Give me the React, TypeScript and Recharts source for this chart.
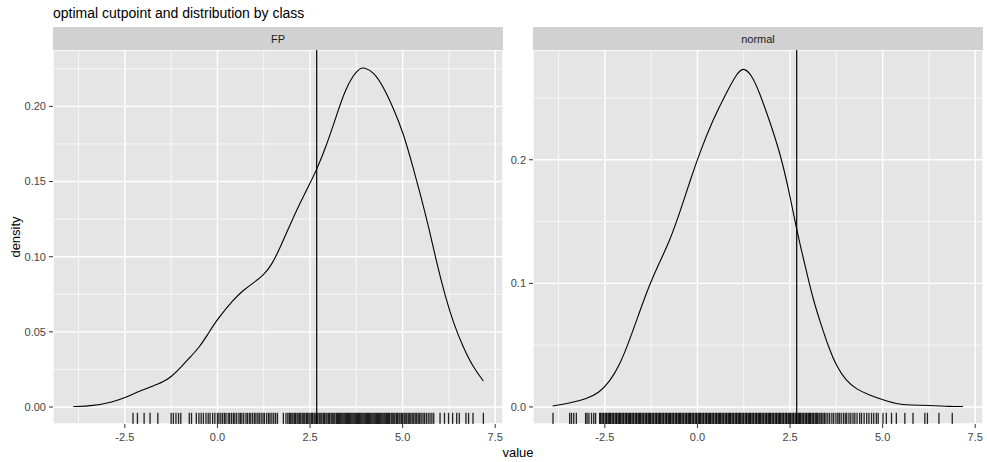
import React from "react";
import { ComposedChart, Line, Scatter, XAxis, YAxis, CartesianGrid, ReferenceLine } from "recharts";

// ---- data ----
const TITLE = "optimal cutpoint and distribution by class";
const PANELS = ["FP", "normal"];
const CUTPOINT = 2.68;

const xTicks = [-2.5, 0, 2.5, 5, 7.5];
const xMinor = [-3.75, -1.25, 1.25, 3.75, 6.25];
const fpYTicks = [0, 0.05, 0.1, 0.15, 0.2];
const fpYMinor = [0.025, 0.075, 0.125, 0.175, 0.225];
const normalYTicks = [0, 0.1, 0.2];
const normalYMinor = [0.05, 0.15, 0.25];

const fpX = [-3.89, -3.37, -2.82, -2.49, -2.1, -1.74, -1.47, -1.24, -1.02, -0.75, -0.48, -0.25, -0.02, 0.43, 0.7, 0.97, 1.24, 1.47, 1.69, 1.96, 2.23, 2.5, 2.68, 2.95, 3.22, 3.45, 3.67, 3.85, 3.96, 4.21, 4.48, 4.75, 5.02, 5.25, 5.47, 5.7, 5.92, 6.15, 6.37, 6.64, 6.91, 7.18];
const fpDensity = [0.0003, 0.0007, 0.0033, 0.0062, 0.0106, 0.014, 0.0166, 0.0202, 0.0255, 0.0328, 0.04, 0.0488, 0.0578, 0.0715, 0.0777, 0.0826, 0.0874, 0.0948, 0.1058, 0.1213, 0.1357, 0.149, 0.1578, 0.1744, 0.1944, 0.211, 0.2209, 0.2254, 0.226, 0.2231, 0.2131, 0.1988, 0.1822, 0.1623, 0.1424, 0.1202, 0.0959, 0.0737, 0.056, 0.0394, 0.0262, 0.0173];

const normalX = [-3.91, -3.46, -3.01, -2.65, -2.38, -2.11, -1.84, -1.57, -1.3, -1.03, -0.76, -0.48, -0.21, 0.06, 0.42, 0.78, 1.05, 1.23, 1.46, 1.68, 1.95, 2.22, 2.45, 2.67, 2.9, 3.12, 3.35, 3.53, 3.75, 4.02, 4.29, 4.65, 5.01, 5.37, 5.73, 6.27, 6.81, 7.17];
const normalDensity = [0.0008, 0.003, 0.0062, 0.0116, 0.0202, 0.0331, 0.0534, 0.0763, 0.0985, 0.1167, 0.1335, 0.157, 0.182, 0.2056, 0.2326, 0.2542, 0.269, 0.2752, 0.269, 0.2542, 0.2312, 0.2065, 0.178, 0.1445, 0.115, 0.0871, 0.0655, 0.0493, 0.0331, 0.021, 0.0143, 0.0095, 0.0057, 0.0024, 0.0014, 0.0014, 0.0003, 0.0003];

const fpRug = [
  -2.28, -2.16, -1.98, -1.82, -1.61, -1.25, -1.19, -1.12, -1.05, -0.99, -0.76, -0.7, -0.57, -0.5, -0.44, -0.38, -0.31, -0.25, -0.2, -0.13, -0.07, 0.0,
  0.04, 0.09, 0.14, 0.19, 0.23, 0.29, 0.33, 0.38, 0.43, 0.47, 0.52, 0.58, 0.62, 0.66, 0.71, 0.77, 0.81, 0.86, 0.9, 0.95, 1.0, 1.04, 1.09, 1.13, 1.18, 1.23, 1.27, 1.33, 1.38, 1.42, 1.47, 1.52, 1.57,
  1.62, 1.78, 1.85,
  1.9, 1.94, 1.97, 2.01, 2.04, 2.08, 2.11, 2.15, 2.18, 2.22, 2.25, 2.29, 2.33, 2.36, 2.4, 2.43, 2.47, 2.5, 2.54, 2.57, 2.61, 2.64, 2.68, 2.71, 2.75, 2.79, 2.82, 2.86, 2.89, 2.93, 2.96, 3.0, 3.03, 3.07, 3.1, 3.14, 3.17, 3.21, 3.24, 3.27, 3.3, 3.33, 3.36, 3.39, 3.42, 3.45, 3.48, 3.51, 3.54, 3.57, 3.6, 3.63, 3.66, 3.69, 3.72, 3.75, 3.78, 3.81, 3.84, 3.87, 3.9, 3.93, 3.96, 3.99, 4.02, 4.05, 4.08, 4.11, 4.14, 4.17, 4.2, 4.23, 4.26, 4.29, 4.32, 4.35, 4.38, 4.41, 4.44, 4.47, 4.5, 4.53, 4.56, 4.59, 4.62, 4.65, 4.69, 4.72, 4.76, 4.79, 4.83, 4.86, 4.9, 4.93, 4.97, 5.0, 5.04, 5.07, 5.11, 5.15, 5.18, 5.22, 5.26, 5.3, 5.34, 5.38, 5.42, 5.46, 5.5, 5.55, 5.59, 5.64, 5.69, 5.74, 5.79, 5.84,
  6.01, 6.13, 6.24, 6.35, 6.46, 6.53, 6.71, 6.78, 6.9, 7.18,
];

const normalRug = [
  -3.9, -3.45, -3.4, -3.34, -3.27, -3.02, -2.98, -2.93, -2.86, -2.8, -2.75,
  -2.64, -2.62, -2.58, -2.55, -2.53, -2.49, -2.46, -2.44, -2.4, -2.37, -2.35, -2.31, -2.28, -2.26, -2.22, -2.19, -2.17, -2.13, -2.1, -2.08, -2.04, -2.01, -1.99, -1.95, -1.92, -1.9, -1.86, -1.83, -1.81, -1.77, -1.74, -1.72, -1.68, -1.65, -1.63, -1.59, -1.56, -1.54, -1.5, -1.47, -1.45, -1.41, -1.38, -1.36, -1.32, -1.29, -1.27, -1.23, -1.2, -1.18, -1.14, -1.11, -1.09, -1.05, -1.02, -1.0, -0.96, -0.93, -0.91, -0.87, -0.84, -0.82, -0.78, -0.75, -0.73, -0.69, -0.66, -0.64, -0.6, -0.57, -0.55, -0.51, -0.48, -0.46, -0.42, -0.39, -0.37, -0.33, -0.3, -0.28, -0.24, -0.21, -0.19, -0.15, -0.12, -0.1, -0.06, -0.03, -0.01,
  0.03, 0.06, 0.08, 0.12, 0.15, 0.17, 0.21, 0.24, 0.26, 0.3, 0.33, 0.35, 0.39, 0.42, 0.44, 0.48, 0.51, 0.53, 0.57, 0.6, 0.62, 0.66, 0.69, 0.71, 0.75, 0.78, 0.8, 0.84, 0.87, 0.89, 0.93, 0.96, 0.98, 1.02, 1.05, 1.07, 1.11, 1.14, 1.16, 1.2, 1.23, 1.25, 1.29, 1.32, 1.34, 1.38, 1.41, 1.43, 1.47, 1.5, 1.52, 1.56, 1.59, 1.61, 1.65, 1.68, 1.7, 1.74, 1.77, 1.79, 1.83, 1.86, 1.88, 1.92, 1.95, 1.97, 2.01, 2.04, 2.06, 2.1, 2.13, 2.15, 2.19, 2.22, 2.24, 2.28, 2.31, 2.33, 2.37, 2.4, 2.42, 2.46, 2.49, 2.51, 2.55, 2.58, 2.6, 2.64, 2.67, 2.69, 2.73, 2.76, 2.78, 2.82, 2.85, 2.87, 2.91, 2.94, 2.96, 3.0, 3.03, 3.05, 3.09, 3.12, 3.14, 3.18, 3.21, 3.24, 3.28, 3.31, 3.35, 3.39, 3.43, 3.47, 3.52, 3.57,
  3.63, 3.68, 3.74, 3.79, 3.83, 3.88, 3.94, 3.99, 4.03, 4.09, 4.14, 4.2, 4.25, 4.31, 4.38, 4.43, 4.5, 4.57, 4.63, 4.7, 4.76, 4.83, 4.88,
  5.01, 5.1, 5.24, 5.37, 5.6, 5.82, 6.14, 6.21, 6.52, 6.88,
];

// ---- styling ----
const FONT = '"Liberation Sans", Arial, Helvetica, sans-serif';
const X_DOMAIN = [-4.44, 7.71];
const FP_Y_DOMAIN = [-0.0113, 0.2375];
const NORMAL_Y_DOMAIN = [-0.0138, 0.2888];
const PANEL_BG = "#E5E5E5";
const STRIP_BG = "#D1D1D1";
const TICK_TEXT = { fill: "#444444", fontSize: 11, fontFamily: FONT };
const RUG_LEN = 11.2;

const RugTick = (props: any) => {
  const { cx, cy } = props;
  if (cx == null || cy == null) return null;
  return (
    <rect x={cx - 0.65} y={cy - RUG_LEN} width={1.3} height={RUG_LEN} fill="#000000" fillOpacity={0.85} stroke="none" />
  );
};

type PanelProps = {
  xs: number[];
  ds: number[];
  rug: number[];
  yDomain: number[];
  yTicks: number[];
  yMinor: number[];
  yDigits: number;
  width: number;
  yAxisWidth: number;
  rightMargin: number;
};

const Panel = ({ xs, ds, rug, yDomain, yTicks, yMinor, yDigits, width, yAxisWidth, rightMargin }: PanelProps) => {
  const lineData = xs.map((x, i) => ({ x, d: ds[i] }));
  const rugData = rug.map((x) => ({ x, r: yDomain[0] }));
  return (
    <ComposedChart width={width} height={400} margin={{ top: 0, right: rightMargin, bottom: 0, left: 0 }}>
      <CartesianGrid fill={PANEL_BG} stroke="#FFFFFF" strokeWidth={1.4} fillOpacity={1} />
      {xMinor.map((v) => (
        <ReferenceLine key={"xm" + v} x={v} stroke="#FFFFFF" strokeWidth={0.7} />
      ))}
      {yMinor.map((v) => (
        <ReferenceLine key={"ym" + v} y={v} stroke="#FFFFFF" strokeWidth={0.7} />
      ))}
      <XAxis
        type="number"
        dataKey="x"
        domain={X_DOMAIN}
        ticks={xTicks}
        allowDataOverflow
        axisLine={false}
        tickLine={{ stroke: "#333333" }}
        tickSize={4}
        tickMargin={5}
        height={26}
        tick={TICK_TEXT}
        tickFormatter={(v: number) => v.toFixed(1)}
        interval={0}
      />
      <YAxis
        type="number"
        domain={yDomain}
        ticks={yTicks}
        allowDataOverflow
        axisLine={false}
        tickLine={{ stroke: "#333333" }}
        tickSize={4}
        tickMargin={3}
        width={yAxisWidth}
        tick={TICK_TEXT}
        tickFormatter={(v: number) => v.toFixed(yDigits)}
        interval={0}
      />
      <ReferenceLine x={CUTPOINT} stroke="#000000" strokeWidth={1.2} />
      <Line data={lineData} dataKey="d" type="basis" stroke="#000000" strokeWidth={1.1} dot={false} isAnimationActive={false} />
      <Scatter data={rugData} dataKey="r" shape={<RugTick />} isAnimationActive={false} />
    </ComposedChart>
  );
};

export default function App() {
  return (
    <div style={{ position: "fixed", left: 0, top: 0, width: 987, height: 462, background: "#FFFFFF", fontFamily: FONT }}>
      <svg width={987} height={462} style={{ position: "absolute", left: 0, top: 0 }}>
        <text x={53} y={18} fontSize={14} fill="#000" fontFamily={FONT}>{TITLE}</text>
        <rect x={53} y={27} width={450} height={23} fill={STRIP_BG} />
        <rect x={533} y={27} width={450} height={23} fill={STRIP_BG} />
        <text x={278} y={42.5} fontSize={11} fill="#1A1A1A" textAnchor="middle" fontFamily={FONT}>{PANELS[0]}</text>
        <text x={758} y={42.5} fontSize={11} fill="#1A1A1A" textAnchor="middle" fontFamily={FONT}>{PANELS[1]}</text>
        <text x={518} y={457} fontSize={13} fill="#000" textAnchor="middle" fontFamily={FONT}>value</text>
        <text x={20} y={237} fontSize={13} fill="#000" textAnchor="middle" fontFamily={FONT} transform="rotate(-90 20 237)">density</text>
      </svg>
      <div style={{ position: "absolute", left: 0, top: 50 }}>
        <Panel xs={fpX} ds={fpDensity} rug={fpRug} yDomain={FP_Y_DOMAIN} yTicks={fpYTicks} yMinor={fpYMinor} yDigits={2} width={510} yAxisWidth={53} rightMargin={7} />
      </div>
      <div style={{ position: "absolute", left: 500, top: 50 }}>
        <Panel xs={normalX} ds={normalDensity} rug={normalRug} yDomain={NORMAL_Y_DOMAIN} yTicks={normalYTicks} yMinor={normalYMinor} yDigits={1} width={487} yAxisWidth={33} rightMargin={4} />
      </div>
    </div>
  );
}
